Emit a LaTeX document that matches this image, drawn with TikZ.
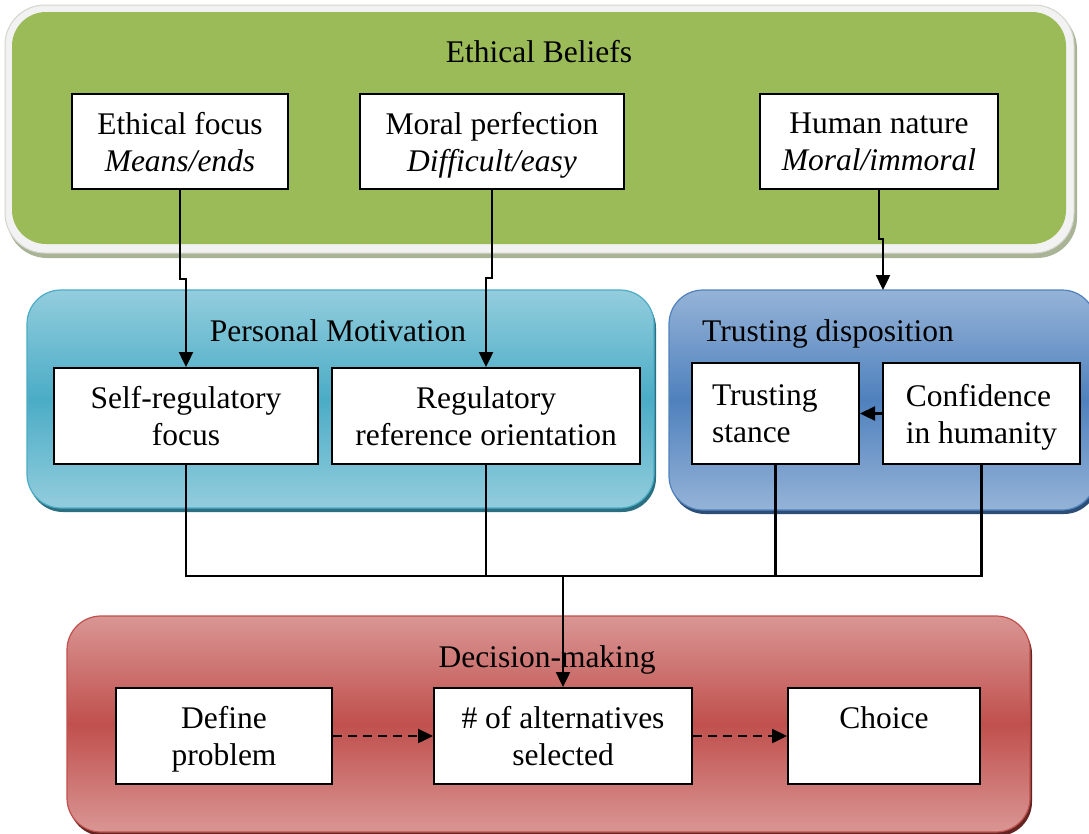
\documentclass[tikz,border=0pt]{standalone}
\usepackage{fontspec}
\setmainfont{Liberation Serif}
\usetikzlibrary{arrows.meta}

\definecolor{beliefgreen}{HTML}{9BBB59}
\definecolor{rimgrey}{HTML}{F2F2F2}
\definecolor{rimline}{HTML}{D3D6CC}
\definecolor{rimshadow}{HTML}{A9B396}
\definecolor{teallight}{HTML}{93CDDD}
\definecolor{tealmid}{HTML}{4BACC6}
\definecolor{tealshadow}{HTML}{2B6F80}
\definecolor{bluelight}{HTML}{95B3D7}
\definecolor{bluemid}{HTML}{4F81BD}
\definecolor{blueshadow}{HTML}{2C4D75}
\definecolor{redlight}{HTML}{D99694}
\definecolor{redmid}{HTML}{C0504D}
\definecolor{redshadow}{HTML}{632523}

% last line of a box without its descender, so all boxes sit alike
\newcommand{\nodesc}[1]{\raisebox{0pt}[\height][0pt]{#1}}

\begin{document}
\begin{tikzpicture}[x=1pt,y=-1pt,
  font=\fontsize{31.5}{37}\selectfont,
  inbox/.style={draw=black, line width=2pt, fill=white, align=center, inner sep=0pt},
  header/.style={anchor=base, inner sep=0pt},
  link/.style={draw=black, line width=2.4pt},
  arrowed/.style={-{Triangle[length=15pt,width=14pt]}},
  container/.style={rounded corners=34pt, line width=1.2pt}]

\useasboundingbox (0,0) rectangle (1089,833);
\clip (0,0) rectangle (1089,833);

% Ethical beliefs panel: shadow, light rim, green face
\fill[rimshadow, rounded corners=40pt] (7,9) rectangle (1077,258);
\filldraw[fill=rimgrey, draw=rimline, line width=1pt, rounded corners=40pt] (5,5) rectangle (1074,253);
\fill[beliefgreen, rounded corners=34pt] (12,12) rectangle (1066,244);

% Personal motivation panel
\fill[tealshadow, container] (29,294) rectangle (656,512);
\path[container, draw=tealmid, top color=teallight, bottom color=teallight, middle color=tealmid]
  (27,290) rectangle (654,508);

% Trusting disposition panel
\fill[blueshadow, container] (671,294) rectangle (1098,514);
\path[container, draw=bluemid, top color=bluelight, bottom color=bluelight, middle color=bluemid]
  (669,290) rectangle (1096,510);

% Decision-making panel
\fill[redshadow, container] (69,620) rectangle (1032,836);
\path[container, draw=redmid, top color=redlight, bottom color=redlight, middle color=redmid]
  (67,616) rectangle (1030,832);

% Panel titles
\node[header] (ebh) at (539,62) {Ethical Beliefs};
\node[header] (pmh) at (338,341) {Personal Motivation};
\node[header] (tdh) at (828,341) {Trusting disposition};
\node[header] (dmh) at (547,667) {Decision-making};

% Ethical beliefs
\node[inbox, minimum width=216pt, minimum height=95pt] (ef) at (180,141.5) {Ethical focus\\\nodesc{\textit{Means/ends}}};
\node[inbox, minimum width=264pt, minimum height=95pt] (mp) at (492,141.5) {Moral perfection\\\nodesc{\textit{Difficult/easy}}};
\node[inbox, minimum width=238pt, minimum height=95pt] (hn) at (879,141.5) {Human nature\\\nodesc{\textit{Moral/immoral}}};

% Personal motivation
\node[inbox, minimum width=264pt, minimum height=96pt] (sr) at (186,416) {Self-regulatory\\\nodesc{focus}};
\node[inbox, minimum width=308pt, minimum height=96pt] (rr) at (486,416) {Regulatory\\\nodesc{reference orientation}};

% Trusting disposition
\node[inbox, minimum width=167pt, minimum height=101pt, text width=127pt, align=left] (ts) at (775.5,413.5) {Trusting\\\nodesc{stance}};
\node[inbox, minimum width=197pt, minimum height=101pt, align=left] (ci) at (981.5,413.5) {Confidence\\\nodesc{in humanity}};

% Decision-making
\node[inbox, minimum width=216pt, minimum height=96pt] (dp) at (224,736) {Define\\\nodesc{problem}};
\node[inbox, minimum width=258pt, minimum height=96pt] (na) at (563,736) {\# of alternatives\\\nodesc{selected}};
\node[inbox, minimum width=192pt, minimum height=96pt] (co) at (884,736) {Choice\\\mbox{}};

% Connector end points
\coordinate (tdtop) at (883,290);
\coordinate (bus) at (0,576);

% Beliefs feeding motivation and trust
\draw[link, arrowed] (ef.south) -- ++(0,89) -| (sr.north);
\draw[link, arrowed] (mp.south) -- ++(0,88) -| (rr.north);
\draw[link, arrowed] (hn.south) -- ++(0,49) -| (tdtop);
\draw[link, arrowed] (ci.west) -- (ts.east);

% Collecting bus into decision-making
\draw[link] (sr.south) -- (sr.south |- bus) -- (ci.south |- bus) -- (ci.south);
\draw[link] (rr.south) -- (rr.south |- bus);
\draw[link] (ts.south) -- (ts.south |- bus);
\draw[link, arrowed] (na.north |- bus) -- (na.north);

% Decision steps
\draw[link, arrowed, dash pattern=on 9pt off 6pt] (dp.east) -- (na.west);
\draw[link, arrowed, dash pattern=on 9pt off 6pt] (na.east) -- (co.west);

\end{tikzpicture}
\end{document}
